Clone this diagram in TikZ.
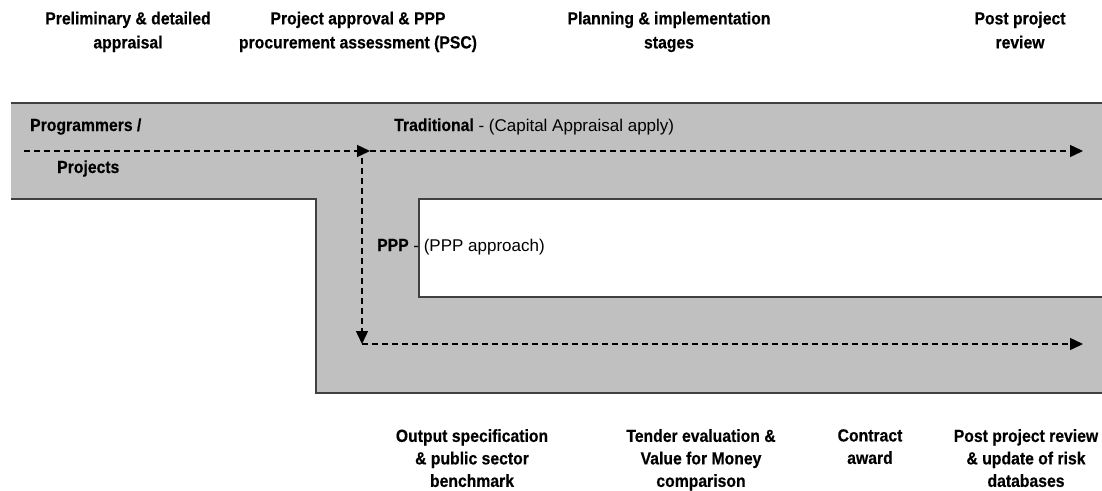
\documentclass[tikz,border=0pt]{standalone}
\usepackage{fontspec}
\setmainfont{Liberation Sans}[BoldFeatures={FakeStretch=0.9,FakeBold=0.4}]
\usetikzlibrary{arrows.meta}
\definecolor{bandgray}{HTML}{C0C0C0}
\definecolor{edgegray}{HTML}{404040}
\begin{document}
\begin{tikzpicture}[x=1pt,y=-1pt,
  band/.style={fill=bandgray, draw=none},
  edgeline/.style={draw=edgegray, line width=1.3pt},
  flow/.style={draw=black, line width=1.4pt, dash pattern=on 6pt off 4pt},
  tip/.style={-{Triangle[length=13pt,width=12pt]}},
  head/.style={font=\fontsize{17.5}{24}\selectfont\bfseries, align=center, inner sep=0pt, anchor=north},
  foot/.style={font=\fontsize{17.5}{22.5}\selectfont\bfseries, align=center, inner sep=0pt, anchor=north},
  inlbl/.style={font=\fontsize{17}{20}\selectfont, inner sep=0pt, anchor=base west},
  inbold/.style={font=\fontsize{17.5}{20}\selectfont\bfseries, inner sep=0pt, anchor=base west}
]
\useasboundingbox (0,0) rectangle (1102,490);
% gray band
\fill[band] (11,103) -- (1102,103) -- (1102,393) -- (316,393) -- (316,199) -- (11,199) -- cycle;
\fill[white] (419,199) rectangle (1102,297);
\draw[edgeline] (11,103) -- (1102,103);
\draw[edgeline] (11,199) -- (316,199) -- (316,393) -- (1102,393);
\draw[edgeline] (1102,199) -- (419,199) -- (419,297) -- (1102,297);

% flow coordinates
\coordinate (s1) at (24,151);
\coordinate (j1) at (370,151);
\coordinate (j1b) at (362,158);
\coordinate (e1) at (1083,151);
\coordinate (j2) at (362,344);
\coordinate (j2b) at (362,344);
\coordinate (e2) at (1083,344);
\draw[flow,tip] (s1) -- (j1);
\draw[flow,tip] (j1) -- (e1);
\draw[flow,tip] (j1b) -- (j2);
\draw[flow,tip] (j2b) -- (e2);

% in-band labels
\node[inbold] (prog) at (30,131) {Programmers /};
\node[inbold] (proj) at (57,173) {Projects};
\node[inlbl] (trad) at (394,131) {{\fontsize{17.5}{20}\selectfont\bfseries Traditional} - (Capital Appraisal apply)};
\node[inlbl] (ppp) at (377,251) {{\fontsize{17.5}{20}\selectfont\bfseries PPP} - (PPP approach)};

% top labels
\node[head] (h1) at (128,11.5) {Preliminary \& detailed\\appraisal};
\node[head] (h2) at (358,11.5) {Project approval \& PPP\\procurement assessment (PSC)};
\node[head] (h3) at (669,11.5) {Planning \& implementation\\stages};
\node[head] (h4) at (1020,11.5) {Post project\\review};

% bottom labels
\node[foot] (b1) at (472,429) {Output specification\\\& public sector\\benchmark};
\node[foot] (b2) at (701,429) {Tender evaluation \&\\Value for Money\\comparison};
\node[foot] (b3) at (870,429) {Contract\\award};
\node[foot] (b4) at (1026,429) {Post project review\\\& update of risk\\databases};
\end{tikzpicture}
\end{document}
